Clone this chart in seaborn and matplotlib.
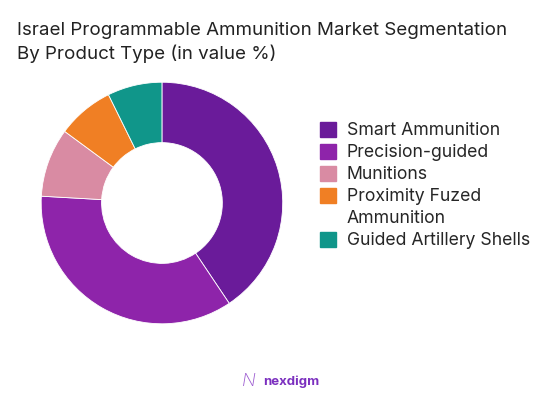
import matplotlib
matplotlib.use("Agg")
import matplotlib.pyplot as plt
import matplotlib.patches as mpatches
import seaborn as sns

# Segment data (value %)
segments = ["Smart Ammunition", "Precision-guided", "Munitions",
            "Proximity Fuzed\nAmmunition", "Guided Artillery Shells"]
shares = [40.6, 35.3, 9.2, 7.6, 7.3]
colors = ["#6a1b9a", "#8e24aa", "#d98ba3", "#f07f24", "#10968a"]

TITLE = "Israel Programmable Ammunition Market Segmentation\nBy Product Type (in value %)"

sns.set_theme(style="white")
plt.rcParams['font.family'] = ['Inter', 'DejaVu Sans']

fig = plt.figure(figsize=(5.55, 4.03), dpi=100)
ax = fig.add_axes([0.072, 0.1935, 0.4396, 0.6055])

palette = sns.color_palette(colors)
ax.pie(shares, colors=palette, startangle=90, counterclock=False, radius=1,
       wedgeprops=dict(width=0.5, edgecolor="white", linewidth=0.6))
ax.set_xlim(-1.01, 1.01)
ax.set_ylim(-1.01, 1.01)
ax.set_aspect("equal")
ax.axis("off")

fig.text(17 / 555, 1 - 22 / 403, TITLE, ha="left", va="top",
         fontsize=13.5, color="#222222", linespacing=1.35)

# legend: wrapped labels keep the swatch on their first line only
handles, labels = [], []
for c, s in zip(palette, segments):
    lines = s.split("\n")
    handles.append(mpatches.Patch(color=c))
    labels.append(lines[0])
    for extra in lines[1:]:
        handles.append(mpatches.Patch(color="none"))
        labels.append(extra)
fig.legend(handles, labels, loc="upper left", bbox_to_anchor=(313 / 555, 1 - 115 / 403),
           frameon=False, fontsize=12.7, handlelength=0.9, handleheight=0.9,
           handletextpad=0.6, labelspacing=0.26, borderaxespad=0)

fig.text(263 / 555, 1 - 382 / 403, "nexdigm", ha="left", va="center",
         fontsize=9.5, color="#7b2fbf", fontweight="bold")
fig.text(249 / 555, 1 - 382 / 403, "N", ha="center", va="center",
         fontsize=13, color="#9b59d0", fontweight="light", style="italic")

fig.savefig("out.png", dpi=100, facecolor="white")
